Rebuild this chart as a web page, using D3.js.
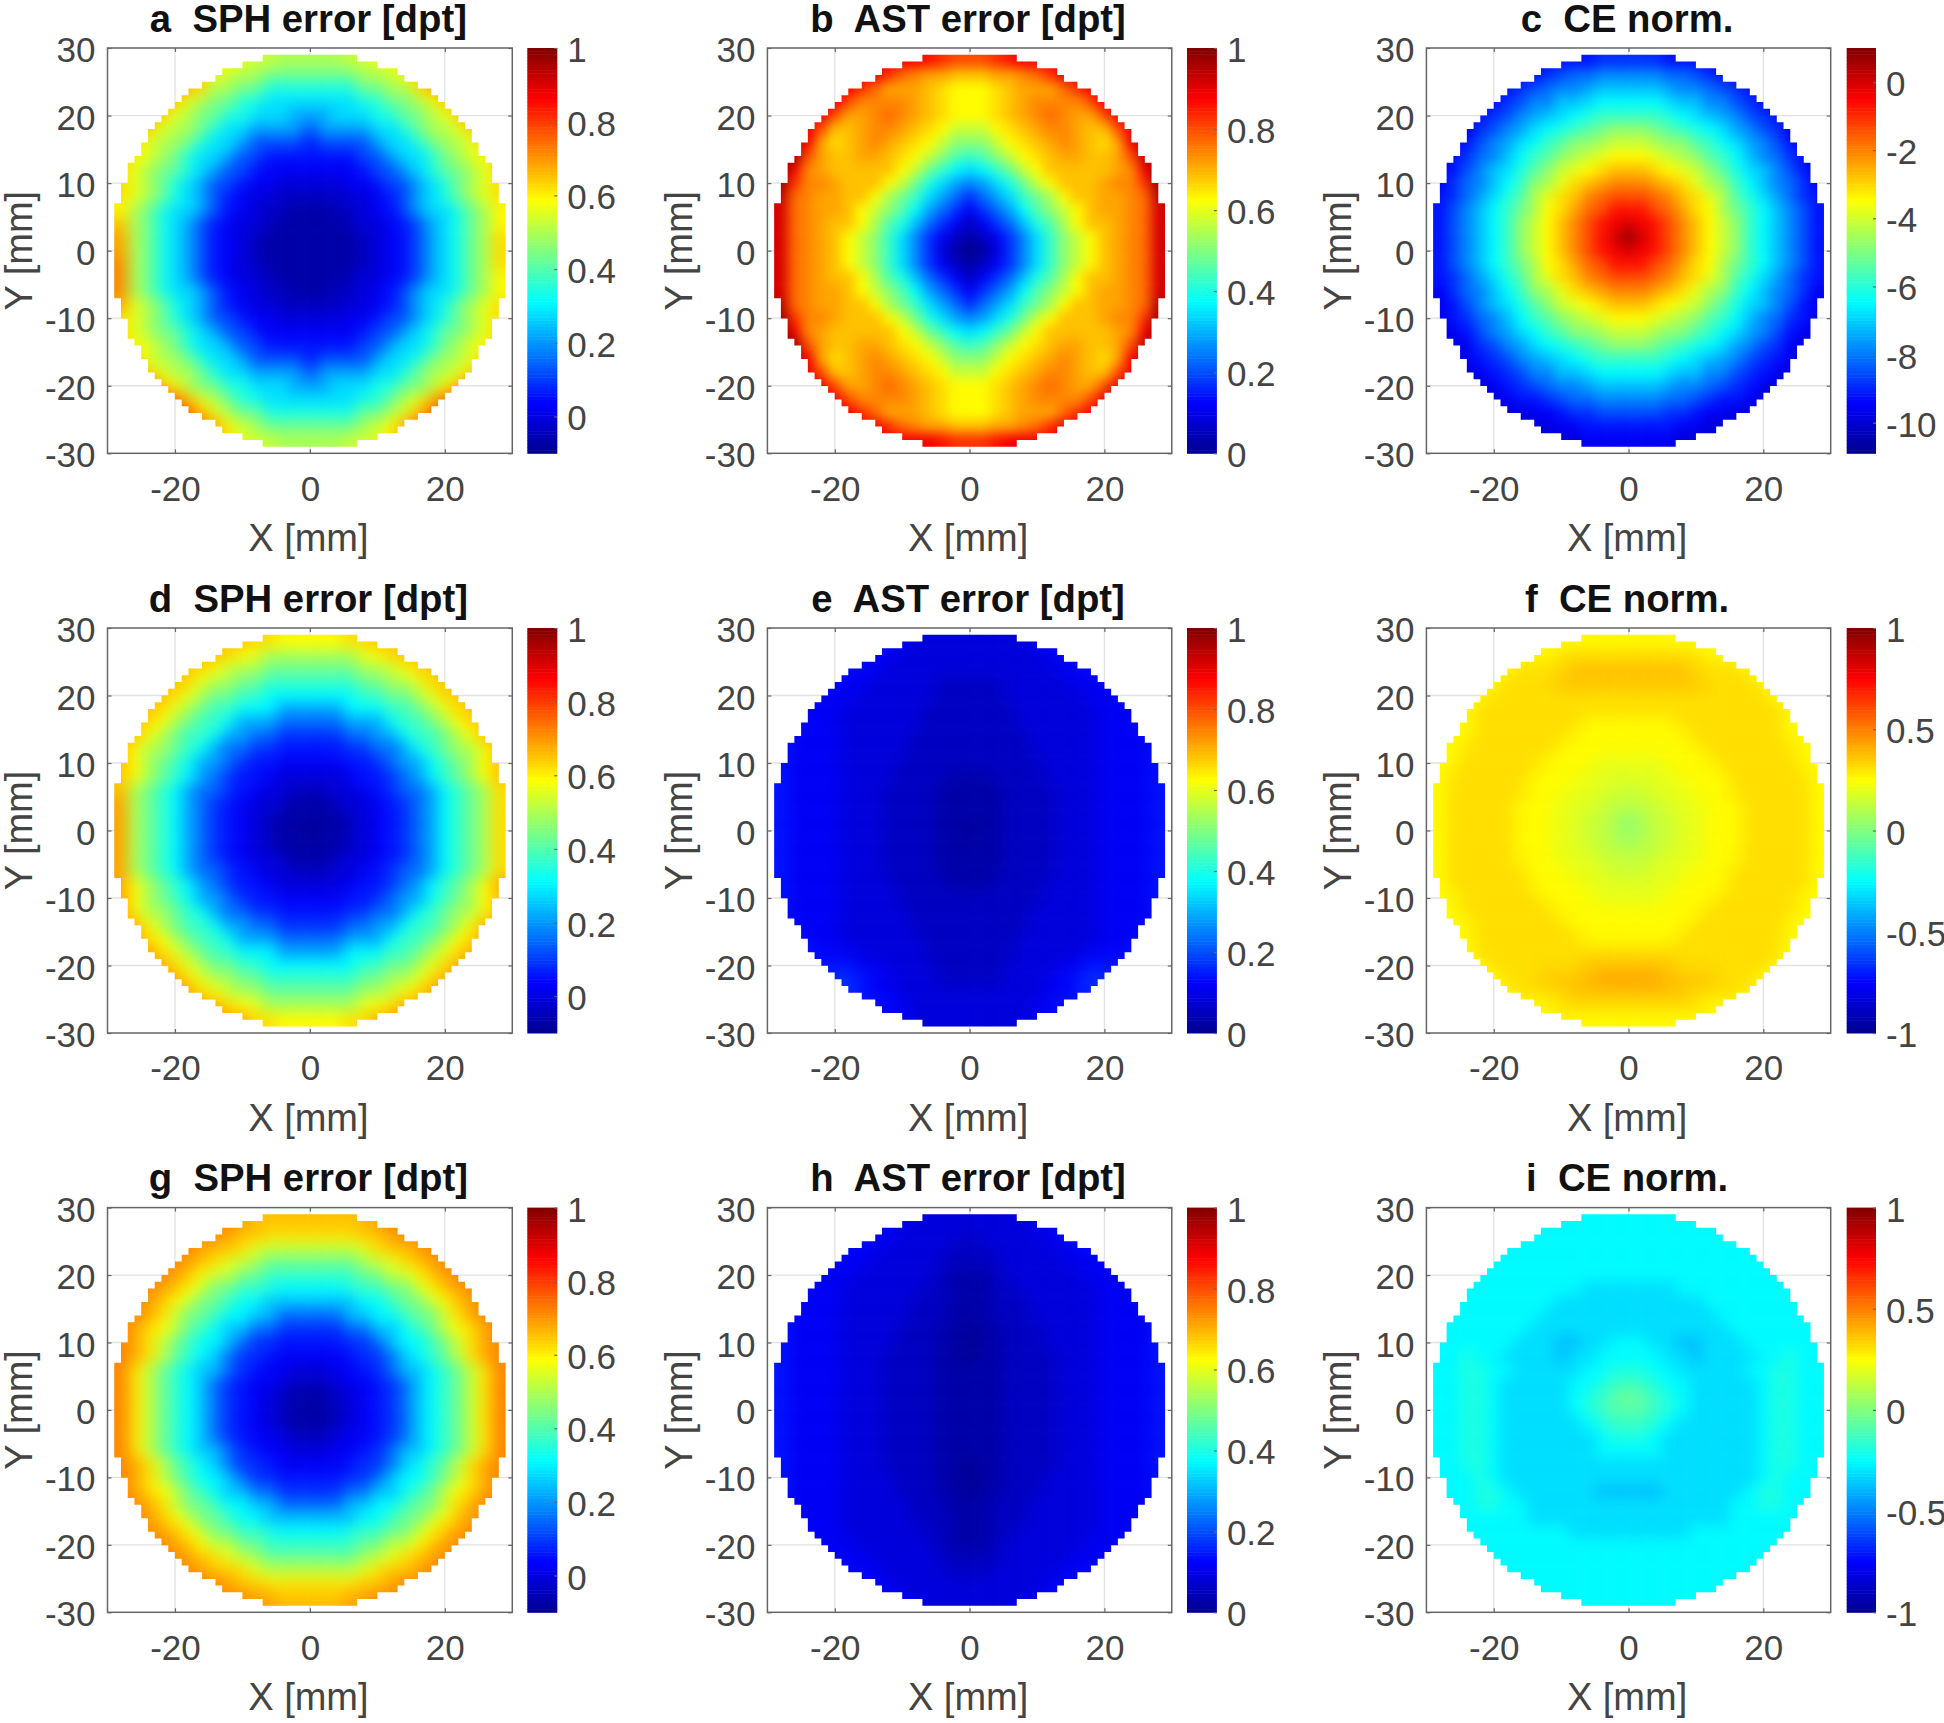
<!DOCTYPE html>
<html><head><meta charset="utf-8">
<script src="https://cdn.jsdelivr.net/npm/d3@7"></script>
<style>
html,body{margin:0;padding:0;background:#fff}
svg{display:block;font-family:"Liberation Sans",Arial,sans-serif}
</style></head><body><div id="chart"></div>
<script>
// Each row: left cells, centre cell, right cells. One character per 2 mm cell, base-36:
// 0 = bottom of the panel's colour range, z = top of it.
const panelA=[
"nnnnnnnnmlkkjj j jjkklmnnnnnnnn","ppppppnlkjjhhh h hhhjjklnpppppp","qqqqqonjjhheee e eeehhjjnoqqqqq","qqqpnljhheeccc c ccceehhjlnpqqq",
"qqqnljhheeccca a accceehhjlnqqq","ppnljjheccaaaa 7 aaaaccehjjlnpp","pnljjhecca7777 5 7777accehjjlnp","omljhecca77555 5 55577accehjlmo",
"nljhheca775444 4 444577acehhjln","nljheca7754433 3 3344577acehjln","nljheca7543322 2 2233457acehjln","mjhecca7543221 1 1223457accehjm",
"ojheca75433211 1 11233457acehjm","pjheca75432111 1 11123457acehjn","pjheca75432111 1 11123457acehjn","qjheca75432111 1 11123457acehjn",
"qjheca75433211 1 11233457acehjm","qjhecca7543221 1 1223457accehjm","pljheca7543322 2 2233457acehjln","nljheca7754433 3 3344577acehjln",
"nljhheca775444 4 444577acehhjln","omljhecca77555 5 55577accehjlmo","pnljjhecca7777 5 7777accehjjlnp","qpnljjheccaaaa 7 aaaaccehjjlnpq",
"ssromjhheeccca a accceehhjmorss","ssssroljheeccc c ccceehjlorssss","sssssroljhheee e eeehhjlorsssss","rrrrrrrpmkjhhh h hhhjkmprrrrrrr","oooooooonlkkjj j jjkklnoooooooo"];
const panelB=[
"vvvvvvvvvvvuts s stuvvvvvvvvvvv","vvvvvvvvtrqppo o oppqrtvvvvvvvv","vvvvvvtrppponm m mnoppprtvvvvvv","vvvvvsqqqqponm m mnopqqqqsvvvvv",
"vvvvsppqrqponm m mnopqrqppsvvvv","vvvsoopqqponmk k kmnopqqpoosvvv","wwvpnopqponmki i ikmnopqponpvww","yyspoopponmkig f gikmnoppoopsxx",
"yvqpooooomkhfd c dfhkmooooopqvy","ytqqpooomkheca 9 acehkmooopqqty","xrqppoomjhfca8 6 8acfhjmooppqrx","wrqppomkigda86 4 68adgikmoppqrw",
"wrqpoomjgeb864 2 468begjmoopqrw","wrqpomkifc9642 1 2469cfikmopqrw","wrqpomkifc9631 0 1369cfikmopqrw","wrqpomkifc9642 1 2469cfikmopqrw",
"wrqpoomjgeb864 2 468begjmoopqrw","wrqppomkigda86 4 68adgikmoppqrw","xrqppoomjhfca8 6 8acfhjmooppqrx","ytqqpooomkheca 9 acehkmooopqqty",
"yvqpooooomkhfd c dfhkmooooopqvy","yyspoopponmkig f gikmnoppoopsxx","ywvpnopqponmki i ikmnopqponpvww","xxvsoopqqponmk k kmnopqqpoosvvv",
"wwvsppqrqponm m mnopqrqppsvvvv","vvvvvsqqqqponm m mnopqqqqsvvvvv","vvvvvvtrppponm m mnoppprtvvvvvv","vvvvvvvvtrqppo o oppqrtvvvvvvvv","vvvvvvvvvvvvut t tuvvvvvvvvvvvv"];
const panelC=[
"44444444455566 6 66555444444444","33333455678899 9 99887655433333","33334567899abb b bba99876543333","333456799bbcdd d ddcbb997654333",
"3345679abcdeff f ffedcba9765433","334679acdefghi i ihgfedca976433","34579acdfgiijk k kjiigfdca97543","45689bdfgijklm m mlkjigfdb98654",
"4579bcegiklmno o onmlkigecb9754","4689bdfijlnopq q qponljifdb9864","568acegjlnoqrs s srqonljgeca865","579bdfhjmnprsu u usrpnmjhfdb975",
"579bdfikmoqsuv w vusqomkifdb975","579bdfikmoqsuw y wusqomkifdb975","579bdfikmoqsuv w vusqomkifdb975","579bdfhjmnprsu u usrpnmjhfdb975",
"568acegjlnoqrs s srqonljgeca865","4689bdfijlnopq q qponljifdb9864","4579bcegiklmno o onmlkigecb9754","45689bdfgijklm m mlkjigfdb98654",
"34579acdfgiijk k kjiigfdca97543","334679acdefghi i ihgfedca976433","3345679abcdeff f ffedcba9765433","333456799bbcdd d ddcbb997654333",
"33334567899abb b bba99876543333","33333455678899 9 99887655433333","33333334456677 7 77665443333333","33333333344555 5 55544333333333","33333333333444 4 44433333333333"];
const panelD=[
"oooooooooonnmm m mmnnoooooooooo","oooooooonmljjj j jjjlmnoooooooo","oooooonmkjjhhh h hhhjjkmnoooooo","ooooonljjhhfff f fffhhjjlnooooo",
"oooonljhhffddd d dddffhhjlnoooo","ooonljhffdddaa a aadddffhjlnooo","oonmjhffdaaa88 8 88aaadffhjmnoo","oomjhffdaa8866 6 6688aadffhjmoo",
"omjjhfda886655 5 556688adfhjjmo","omjhfdaa865544 4 445568aadfhjmo","omjhfda8655433 3 3345568adfhjmo","ojhfda88654332 2 23345688adfhjn",
"pjhfda86543321 1 12334568adfhjn","pjhfda86543211 1 11234568adfhjn","pjhfda86543211 0 11234568adfhjn","pjhfda86543211 1 11234568adfhjn",
"pjhfda86543321 1 12334568adfhjn","pjhfda88654332 2 23345688adfhjn","pmjhfda8655433 3 3345568adfhjmp","pmjhfdaa865544 4 445568aadfhjmo",
"pmjjhfda886655 5 556688adfhjjmo","ppmjhffdaa8866 6 6688aadffhjmpp","ppnmjhffdaaa88 8 88aaadffhjmnpp","pppnljhffdddaa a aadddffhjlnppp",
"ppppnljhhffddd d dddffhhjlnpppp","pppppnljjhhfff f fffhhjjlnppppp","ppppppnmkjjhhh h hhhjjkmnpppppp","ppppppppnmljjj j jjjlmnpppppppp","ppppppppppnnmm m mmnnpppppppppp"];
const panelE=[
"55555555443333 3 33334455555555","55555554433333 3 33333445555555","55555444333333 3 33333344455555","55544443333322 2 22333334444555",
"55444433333322 2 22333333444455","54444333333222 2 22233333344445","55444333333222 2 22233333344455","54444333332222 2 22223333344445",
"54444333332222 2 22223333344445","54444333322222 2 22222333344445","54444333322221 1 12222333344445","54444333222211 1 11222233344445",
"54444333222211 1 11222233344445","54444333222211 1 11222233344445","54444333222211 0 11222233344445","54444333222211 1 11222233344445",
"54444333222211 1 11222233344445","54444333222211 1 11222233344445","54444333322221 1 12222333344445","54444333322222 2 22222333344445",
"54444333332222 2 22223333344445","54444333332222 2 22223333344445","55444333333222 2 22233333344455","55544433333222 2 22233333444555",
"55555544333322 2 22333344555555","55556654433322 2 22333445665555","55556654433333 3 33333445665555","55555555443333 3 33334455555555","55555555443333 3 33334455555555"];
const panelF=[
"mmmmmmmmmmmmmm m mmmmmmmmmmmmmm","mmmmmmmmmnnnnn n nnnnnmmmmmmmmm","mmmmmmnnnnoooo o oooonnnnmmmmmm","mmmmmnnnnooooo o ooooonnnnmmmmm",
"mmmmnnnnnnnnnn n nnnnnnnnnnmmmm","mmmnnnnnnnnnnn n nnnnnnnnnnnmmm","mmmnnnnnnnnmmm m mmmnnnnnnnnmmm","mmmnnnnnnnmmmm m mmmmnnnnnnnmmm",
"mmnnnnnnnmmmmm m mmmmmnnnnnnnmm","mmnnnnnnmmmmll l llmmmmnnnnnnmm","mnnnnnnmmmmlll l lllmmmmnnnnnnm","mnnnnnnmmmlllk k klllmmmnnnnnnm",
"mnnnnnmmmlllkk k kklllmmmnnnnnm","mnnnnnmmmllkkj i jkkllmmmnnnnnm","mnnnnnmmmllkkj i jkkllmmmnnnnnm","mnnnnnmmmllkkj j jkkllmmmnnnnnm",
"mnnnnnmmmlllkk k kklllmmmnnnnnm","mnnnnnnmmmlllk k klllmmmnnnnnnm","mnnnnnnmmmmlll l lllmmmmnnnnnnm","mmnnnnnnmmmmll l llmmmmnnnnnnmm",
"mmnnnnnnnmmmmm m mmmmmnnnnnnnmm","mmmnnnnnnnmmmm m mmmmnnnnnnnmmm","mmmnnnnnnnnmmm m mmmnnnnnnnnmmm","mmmnnnnnnnnnnn n nnnnnnnnnnnmmm",
"mmmmnnnnnnnooo o ooonnnnnnnmmmm","mmmmmnnnoooopp p ppoooonnnmmmmm","mmmmmmnnnnoooo o oooonnnnmmmmmm","mmmmmmmmmnnnnn n nnnnnmmmmmmmmm","mmmmmmmmmmmmmm m mmmmmmmmmmmmmm"];
const panelG=[
"qqqqqqqqqpoooo o oooopqqqqqqqqq","qqqqqqqqpoonnn n nnnoopqqqqqqqq","qqqqqqpoonlkkk k kkklnoopqqqqqq","qqqqqponlkjhhh h hhhjklnopqqqqq",
"qqqqpomkkhhfff f fffhhkkmopqqqq","qqqpomkhhffedd d ddeffhhkmopqqq","qqpomkhhfddbbb b bbbddfhhkmopqq","qqpnkhhfddbb88 8 88bbddfhhknpqq",
"qpnmkhfdbb8866 6 6688bbdfhkmnpq","qpnkhfddb86655 5 55668bddfhknpq","qpnkhfdb866544 4 445668bdfhknpq","qnkhfdbb865443 3 344568bbdfhknq",
"qnkhfdb8654432 2 2344568bdfhknq","qnkhfdb8654321 1 1234568bdfhknq","qnkhfdb8654321 1 1234568bdfhknq","qnkhfdb8654321 1 1234568bdfhknq",
"qnkhfdb8654432 2 2344568bdfhknq","qnkhfdbb865443 3 344568bbdfhknq","qpnkhfdb866544 4 445668bdfhknpq","qpnkhfddb86655 5 55668bddfhknpq",
"qpnmkhfdbb8866 6 6688bbdfhkmnpq","qqpnkhhfddbb88 8 88bbddfhhknpqq","qqpomkhhfddbbb b bbbddfhhkmopqq","qqqpomkhhffedd d ddeffhhkmopqqq",
"qqqqpomkkhhfff f fffhhkkmopqqqq","qqqqqponlkjhhh h hhhjklnopqqqqq","qqqqqqpoonlkkk k kkklnoopqqqqqq","qqqqqqqqpoonnn n nnnoopqqqqqqqq","qqqqqqqqqqppoo o ooppqqqqqqqqqq"];
const panelH=[
"55555555443333 3 33334455555555","55555554433333 2 33333445555555","55555444333332 2 23333344455555","55544443333322 2 22333334444555",
"55444433333321 1 12333333444455","55444333333221 1 12233333344455","54444333332221 1 12223333344445","54444333332221 1 12223333344445",
"54444333322211 0 11222333344445","54444333322211 0 11222333344445","54444333222211 0 11222233344445","54444333222211 1 11222233344445",
"54444333222211 1 11222233344445","54444333222211 1 11222233344445","54444333222211 1 11222233344445","54444333222211 1 11222233344445",
"54444333222211 1 11222233344445","54444333222211 1 11222233344445","54444333222211 0 11222233344445","54444333322211 0 11222333344445",
"54444333322211 0 11222333344445","54444333332221 1 12223333344445","54444333332221 1 12223333344445","55444333333221 1 12233333344455",
"55444433333321 1 12333333444455","55544443333322 2 22333334444555","55555444333332 2 23333344455555","55555554433333 3 33333445555555","55555555443333 3 33334455555555"];
const panelI=[
"dddddddddddddd d dddddddddddddd","dddddddddddddd d dddddddddddddd","dddddddddddddd d dddddddddddddd","dddddddddddddd d dddddddddddddd",
"dddddddddddddd d dddddddddddddd","dddddddddddccc c cccddddddddddd","dddddddddccccc c cccccddddddddd","ddddddddcccccc c ccccccdddddddd",
"dddddddccccccc c cccccccddddddd","ddddddcccbbccd d dccbbcccdddddd","ddeddccccbccdd d ddccbccccddedd","ddeeddcccccdde e eddcccccddeedd",
"ddeedcccccddef f feddcccccdeedd","ddeedcccccdefg h gfedcccccdeedd","ddeedcccccdefg g gfedcccccdeedd","ddeedccccccdef f fedccccccdeedd",
"ddeedcccccccde e edcccccccdeedd","ddeedcccccccdd d ddcccccccdeedd","ddeedccccccccc c cccccccccdeedd","dddedccccccccc c cccccccccdeddd",
"dddeedccccccbb b bbccccccdeeddd","dddeeddccccccc c cccccccddeeddd","dddddddccccccc c cccccccddddddd","ddddddddddcccc c ccccdddddddddd",
"dddddddddddddd d dddddddddddddd","dddddddddddddd d dddddddddddddd","dddddddddddddd d dddddddddddddd","dddddddddddddd d dddddddddddddd","dddddddddddddd d dddddddddddddd"];

// half widths (in 1 mm pixels) of the measured disk, top row to middle
const rowHalfWidths=[7,10,13,14,16,18,19,20,21,22,23,24,24,25,25,26,27,27,27,28,28,28,29,29,29,29,29,29,29];

const letters=["a","b","c","d","e","f","g","h","i"];
const titleTexts=["SPH error [dpt]","AST error [dpt]","CE norm."];
const xTicks=[-20,0,20];
const yTicks=[-30,-20,-10,0,10,20,30];
const cTicksUnit=[0,0.2,0.4,0.6,0.8,1];
const cTicksCE=[-10,-8,-6,-4,-2,0];
const cTicksSym=[-1,-0.5,0,0.5,1];
const cDomainSph=[-0.1,1], cDomainAst=[0,1], cDomainCE=[-10.9,1], cDomainSym=[-1,1];
const softening=[7.5,6,6,7.5,9,9,7.5,9,7];
const panels=[
 {data:panelA,dom:cDomainSph,ticks:cTicksUnit},{data:panelB,dom:cDomainAst,ticks:cTicksUnit},{data:panelC,dom:cDomainCE,ticks:cTicksCE},
 {data:panelD,dom:cDomainSph,ticks:cTicksUnit},{data:panelE,dom:cDomainAst,ticks:cTicksUnit},{data:panelF,dom:cDomainSym,ticks:cTicksSym},
 {data:panelG,dom:cDomainSph,ticks:cTicksUnit},{data:panelH,dom:cDomainAst,ticks:cTicksUnit},{data:panelI,dom:cDomainSym,ticks:cTicksSym}];

const W=1944,H=1723;
const colL=[107.5,767.4,1426.4],colR=[512.3,1171.8,1830.7],barL=[527.3,1187,1846.7],barR=[557.3,1216.9,1876];
const rowT=[48,628,1207.6],rowB=[453.3,1033,1612.3],titleY=[31.7,611.9,1191];
const xDomain=[-30,30],yDomain=[30,-30];
const gridX0=-29,gridY0=29;
const textCol="#444",boxCol="#666",gridCol="#e2e2e2",fontPx=35;

const jetPos=[0,0.125,0.375,0.625,0.875,1];
const jetCol=["#00008f","#0000ff","#00ffff","#ffff00","#ff0000","#800000"];

const svg=d3.select("#chart").append("svg").attr("width",W).attr("height",H).attr("viewBox",[0,0,W,H]);
svg.append("rect").attr("width",W).attr("height",H).attr("fill","#fff");
const defs=svg.append("defs");

const fullRows=rowHalfWidths.concat(rowHalfWidths.slice().reverse());

panels.forEach((p,idx)=>{
  const c=idx%3,r=Math.floor(idx/3);
  const x=d3.scaleLinear().domain(xDomain).range([colL[c],colR[c]]);
  const y=d3.scaleLinear().domain(yDomain).range([rowT[r],rowB[r]]);
  const color=d3.scaleLinear().domain(jetPos.map(t=>p.dom[0]+t*(p.dom[1]-p.dom[0]))).range(jetCol).clamp(true);
  const g=svg.append("g");

  defs.append("filter").attr("id","soft"+idx).attr("filterUnits","userSpaceOnUse")
    .attr("x",0).attr("y",0).attr("width",W).attr("height",H)
    .attr("color-interpolation-filters","sRGB")
    .append("feGaussianBlur").attr("stdDeviation",softening[idx]);

  g.append("g").selectAll("line").data(xTicks).join("line")
    .attr("x1",d=>x(d)).attr("x2",d=>x(d)).attr("y1",rowT[r]).attr("y2",rowB[r]).attr("stroke",gridCol).attr("stroke-width",1.3);
  g.append("g").selectAll("line").data(yTicks.slice(1,-1)).join("line")
    .attr("y1",d=>y(d)).attr("y2",d=>y(d)).attr("x1",colL[c]).attr("x2",colR[c]).attr("stroke",gridCol).attr("stroke-width",1.3);

  const clipId="disk"+idx;
  const path=d3.path();
  fullRows.forEach((h,i)=>{
    const cx=gridX0+29;
    path.rect(x(cx-h),y(gridY0-i),x(cx+h)-x(cx-h),y(gridY0-i-1)-y(gridY0-i)+0.3);
  });
  defs.append("clipPath").attr("id",clipId).append("path").attr("d",path.toString());

  const cells=[];
  p.data.forEach((row,i)=>{
    const parts=row.split(" ");
    const seq=parts[0].split("").map((ch,n)=>({ch,j:14-parts[0].length+n}))
      .concat([{ch:parts[1],j:14}])
      .concat(parts[2].split("").map((ch,n)=>({ch,j:15+n})));
    seq.forEach(s=>{
      cells.push({i,j:s.j,v:p.dom[0]+parseInt(s.ch,36)/35*(p.dom[1]-p.dom[0])});
    });
  });
  const bleed=8;
  g.append("g").attr("clip-path",`url(#${clipId})`)
   .append("g").attr("filter",`url(#soft${idx})`)
   .selectAll("rect").data(cells).join("rect")
    .attr("x",d=>x(gridX0+2*d.j-(d.j===0?bleed:0)))
    .attr("width",d=>x(gridX0+2*d.j+2+(d.j===28?bleed:0))-x(gridX0+2*d.j-(d.j===0?bleed:0))+0.5)
    .attr("y",d=>y(gridY0-2*d.i+(d.i===0?bleed:0)))
    .attr("height",d=>y(gridY0-2*d.i-2-(d.i===28?bleed:0))-y(gridY0-2*d.i+(d.i===0?bleed:0))+0.5)
    .attr("fill",d=>color(d.v));

  g.append("rect").attr("x",colL[c]).attr("y",rowT[r]).attr("width",colR[c]-colL[c]).attr("height",rowB[r]-rowT[r])
    .attr("fill","none").attr("stroke",boxCol).attr("stroke-width",1.5);

  const styleAxis=s=>{
    s.select(".domain").remove();
    s.selectAll("line").attr("stroke",boxCol).attr("stroke-width",1.2);
    s.selectAll("text").attr("fill",textCol).attr("font-size",fontPx).attr("font-family",'"Liberation Sans",Arial,sans-serif');
  };
  const fmt=d=>String(d);
  const ax=g.append("g").attr("transform",`translate(0,${rowB[r]})`)
    .call(d3.axisBottom(x).tickValues(xTicks).tickSize(-4).tickFormat(fmt)).call(styleAxis);
  ax.selectAll("text").attr("y",47.4).attr("dy",0);
  g.append("g").attr("transform",`translate(0,${rowT[r]})`)
    .call(d3.axisTop(x).tickValues(xTicks).tickSize(-4).tickFormat("")).call(styleAxis);
  const ay=g.append("g").attr("transform",`translate(${colL[c]},0)`)
    .call(d3.axisLeft(y).tickValues(yTicks).tickSize(-4).tickFormat(fmt)).call(styleAxis);
  ay.selectAll("text").attr("x",-12).attr("dy",13.5);
  g.append("g").attr("transform",`translate(${colR[c]},0)`)
    .call(d3.axisRight(y).tickValues(yTicks).tickSize(-4).tickFormat("")).call(styleAxis);

  const mid=x(0)-1.5;
  g.append("text").attr("x",mid).attr("y",rowB[r]+97.5).attr("text-anchor","middle")
    .attr("font-size",38).attr("fill",textCol).text("X [mm]");
  g.append("text").attr("transform",`translate(${colL[c]-75.5},${y(0)}) rotate(-90)`).attr("text-anchor","middle")
    .attr("font-size",38).attr("fill",textCol).text("Y [mm]");
  g.append("text").attr("x",mid).attr("y",titleY[r]).attr("text-anchor","middle")
    .attr("font-size",38.3).attr("font-weight","bold").attr("fill","#111").style("white-space","pre")
    .text(letters[idx]+"  "+titleTexts[c]);

  const yc=d3.scaleLinear().domain(p.dom).range([rowB[r],rowT[r]]);
  const bins=d3.range(128);
  const vAt=b=>p.dom[0]+b/128*(p.dom[1]-p.dom[0]);
  g.append("g").selectAll("rect").data(bins).join("rect")
    .attr("x",barL[c]).attr("width",barR[c]-barL[c])
    .attr("y",b=>yc(vAt(b+1))).attr("height",b=>yc(vAt(b))-yc(vAt(b+1))+0.5)
    .attr("fill",b=>color(vAt(b+0.5)));
  const cb=g.append("g").attr("transform",`translate(${barR[c]},0)`)
    .call(d3.axisRight(yc).tickValues(p.ticks).tickSize(-3).tickFormat(fmt)).call(styleAxis);
  cb.selectAll("text").attr("x",10).attr("dy",13.5);
});
</script></body></html>
